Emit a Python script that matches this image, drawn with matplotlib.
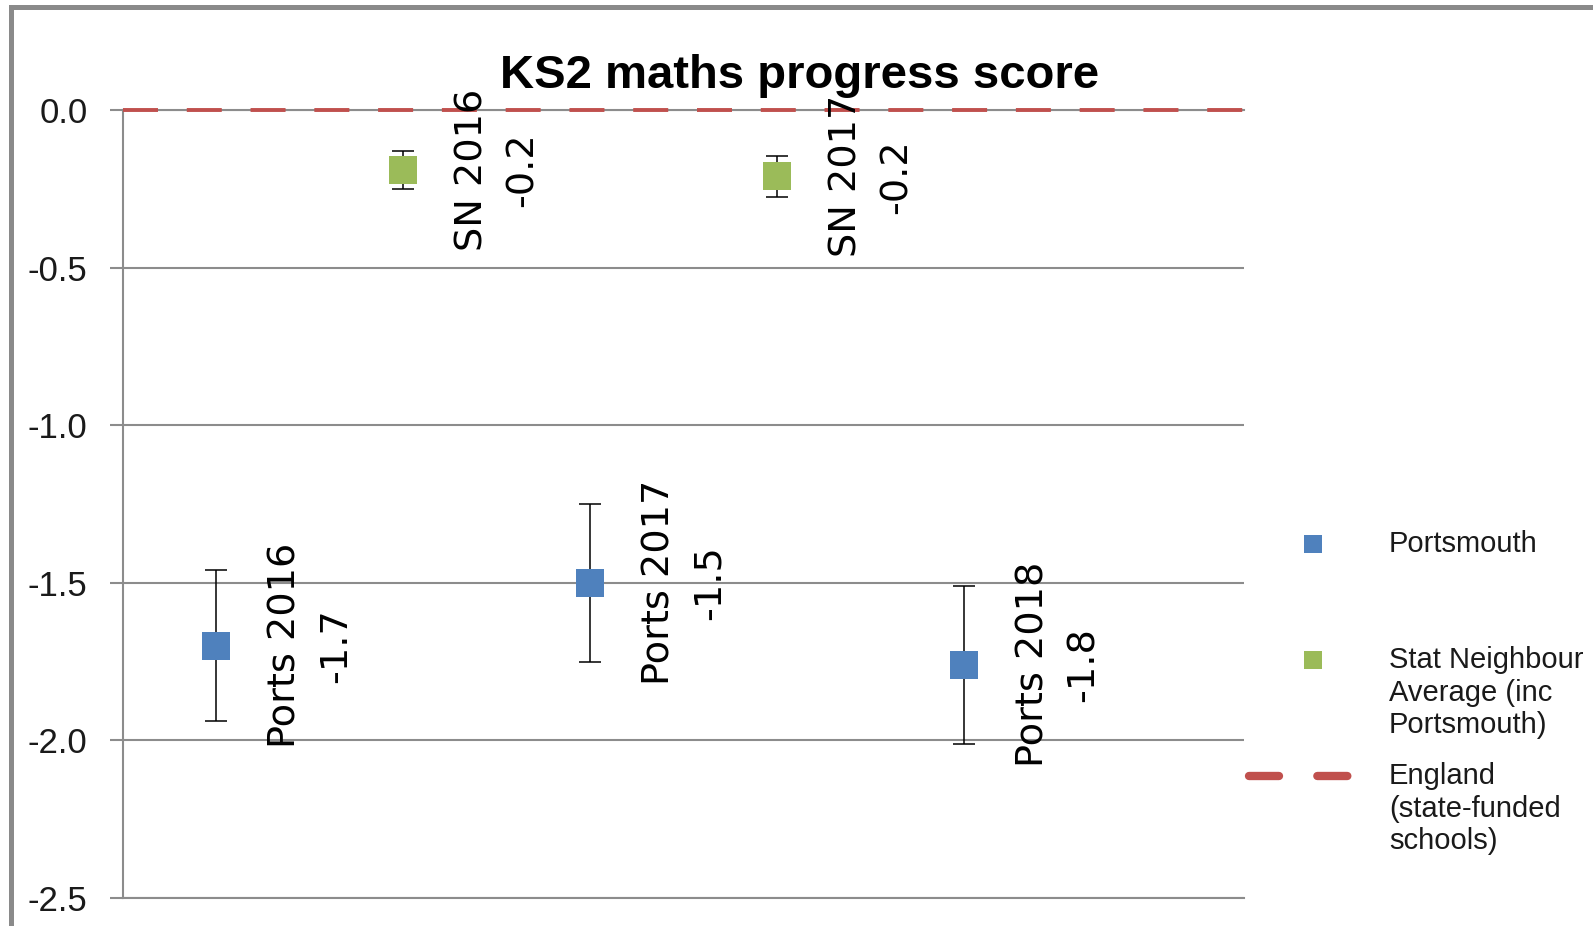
import matplotlib
matplotlib.use("Agg")
import matplotlib.pyplot as plt
from matplotlib.lines import Line2D
from matplotlib.legend_handler import HandlerLine2D
from matplotlib.transforms import Affine2D
from matplotlib.patches import Rectangle

# slot order along the (unlabelled) x axis
slots = ["Ports 2016", "SN 2016", "Ports 2017", "SN 2017", "Ports 2018"]

ports_names = ["Ports 2016", "Ports 2017", "Ports 2018"]
ports_scores = [-1.70, -1.50, -1.76]
ports_err = [0.24, 0.25, 0.25]

sn_names = ["SN 2016", "SN 2017"]
sn_scores = [-0.19, -0.21]
sn_err = [0.06, 0.065]

england_score = 0.0

y_ticks = [0.0, -0.5, -1.0, -1.5, -2.0, -2.5]
y_tick_labels = ["0.0", "-0.5", "-1.0", "-1.5", "-2.0", "-2.5"]

legend_labels = ["Portsmouth\n\n",
                 "Stat Neighbour\nAverage (inc\nPortsmouth)",
                 "England\n(state-funded\nschools)"]

blue = "#4F81BD"
green = "#9BBB59"
red = "#C0504D"
grey = "#8C8C8C"

W, H = 1593, 926
fig = plt.figure(figsize=(W / 100, H / 100), dpi=100)
ax = fig.add_axes([123 / W, 1 - 898 / H, (1244 - 123) / W, (898 - 110) / H])


def draw_series(names, scores, errs, color):
    xs = [slots.index(n) for n in names]
    ax.errorbar(xs, scores, yerr=errs, fmt="none", ecolor="black",
                elinewidth=1.1, capsize=8, capthick=1.1, zorder=3)
    ax.plot(xs, scores, ls="none", marker="s", ms=19.5, color=color,
            mew=0, zorder=4)
    for x, name, s in zip(xs, names, scores):
        ax.annotate(f"{name}\n{s:.1f}", xy=(x, s), xytext=(68, 0),
                    textcoords="offset points", rotation=90, ha="center",
                    va="center", multialignment="center", fontsize=27.5,
                    family="DejaVu Sans", linespacing=1.5, zorder=5)


draw_series(ports_names, ports_scores, ports_err, blue)
draw_series(sn_names, sn_scores, sn_err, green)

ax.axhline(england_score, color=red, lw=2.8, dashes=(9, 7.4), zorder=3,
           clip_on=False)

ax.set_xlim(-0.5, len(slots) + 0.5)
ax.set_ylim(-2.5, 0)
ax.set_xticks([])
ax.set_yticks(y_ticks, labels=y_tick_labels)
ax.yaxis.grid(True, color=grey, lw=1.5)
ax.set_axisbelow(True)
for side in ["top", "bottom", "left"]:
    ax.spines[side].set_color(grey)
    ax.spines[side].set_linewidth(1.5)
    ax.spines[side].set_zorder(1)
ax.spines["right"].set_visible(False)
ax.tick_params(axis="y", length=9.4, width=1.5, color=grey, pad=16,
               labelsize=25, labelcolor="#1a1a1a")
for lab in ax.get_yticklabels():
    lab.set_family("Liberation Sans")

fig.text(800 / W, 1 - 88 / H, "KS2 maths progress score", ha="center",
         va="baseline", fontsize=34, fontweight="bold",
         family="Liberation Sans")


class FirstLineHandler(HandlerLine2D):
    # put the legend key next to the first line of a multi-line label
    def create_artists(self, legend, orig_handle, xdescent, ydescent,
                       width, height, fontsize, trans):
        dx = 9.5 if orig_handle.get_linestyle() == "None" else 0
        shift = Affine2D().translate(dx, 23.8)
        return super().create_artists(legend, orig_handle, xdescent, ydescent,
                                      width, height, fontsize, shift + trans)


handles = [Line2D([], [], ls="none", marker="s", ms=13, color=blue, mew=0),
           Line2D([], [], ls="none", marker="s", ms=13, color=green, mew=0),
           Line2D([], [], color=red, lw=6, dashes=(3.6, 4.6),
                  dash_capstyle="round")]
leg = fig.legend(handles, legend_labels, loc="upper left",
                 bbox_to_anchor=(1249 / W, 1 - 530 / H), frameon=False,
                 prop=dict(family="Liberation Sans", size=21),
                 handlelength=3.5, handletextpad=1.3, labelspacing=0.8,
                 borderpad=0, borderaxespad=0,
                 handler_map={Line2D: FirstLineHandler()})
for t in leg.get_texts():
    t.set_color("#1a1a1a")

# grey screenshot frame on the left and top
fig.patches.append(Rectangle((11 / W, -0.1), 2, 1.1 - 7 / H,
                             transform=fig.transFigure, fill=False,
                             edgecolor="#8a8a8a", lw=3.6))

fig.savefig("out.png", dpi=100)
